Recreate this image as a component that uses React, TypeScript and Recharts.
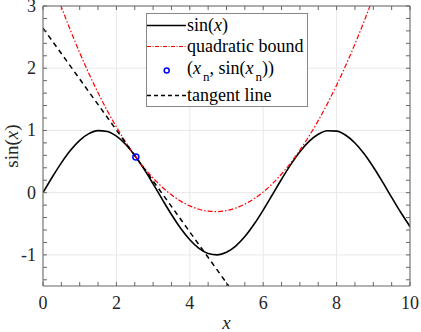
import React from 'react';
import { ComposedChart, Line, Scatter, XAxis, YAxis, CartesianGrid } from 'recharts';

// sample positions along x
const xs = [0, 0.25, 0.5, 0.75, 1, 1.25, 1.5, 1.75, 2, 2.25, 2.5, 2.75, 3, 3.25, 3.5, 3.75, 4, 4.25, 4.5, 4.75, 5,
  5.25, 5.5, 5.75, 6, 6.25, 6.5, 6.75, 7, 7.25, 7.5, 7.75, 8, 8.25, 8.5, 8.75, 9, 9.25, 9.5, 9.75, 10];
// sin(x) series
const sinValues = [0, 0.2474, 0.4794, 0.6816, 0.8415, 0.949, 0.9975, 0.984, 0.9093, 0.7781, 0.5985, 0.3817, 0.1411,
  -0.1082, -0.3508, -0.5716, -0.7568, -0.895, -0.9775, -0.9993, -0.9589, -0.8589, -0.7055, -0.5083, -0.2794, -0.0332,
  0.2151, 0.45, 0.657, 0.8231, 0.938, 0.9946, 0.9894, 0.9228, 0.7985, 0.6247, 0.4121, 0.1743, -0.0752, -0.3195, -0.544];
// quadratic bound series
const quadValues = [3.816, 3.389, 2.986, 2.606, 2.249, 1.916, 1.606, 1.319, 1.056, 0.815, 0.599, 0.405, 0.235, 0.088,
  -0.035, -0.136, -0.213, -0.266, -0.297, -0.304, -0.287, -0.248, -0.185, -0.098, 0.011, 0.144, 0.3, 0.48, 0.683,
  0.909, 1.158, 1.431, 1.727, 2.046, 2.389, 2.755, 3.144, 3.557, 3.993, 4.452, 4.935];
// tangent line end points
const tangentX = [0, 5.06];
const tangentY = [2.645, -1.5];
// the point (x_n, sin(x_n))
const pointX = [2.53];
const pointY = [0.574];

// ticks
const xTicks = [0, 0.5, 1, 1.5, 2, 2.5, 3, 3.5, 4, 4.5, 5, 5.5, 6, 6.5, 7, 7.5, 8, 8.5, 9, 9.5, 10];
const xMajor = [0, 2, 4, 6, 8, 10];
const yTicks = [-1.4, -1.2, -1, -0.8, -0.6, -0.4, -0.2, 0, 0.2, 0.4, 0.6, 0.8, 1, 1.2, 1.4, 1.6, 1.8, 2, 2.2, 2.4,
  2.6, 2.8, 3];
const yMajor = [-1, 0, 1, 2, 3];

const sinData = xs.map((x, i) => ({ x, y: sinValues[i] }));
const quadData = xs.map((x, i) => ({ x, y: quadValues[i] }));
const tangentData = tangentX.map((x, i) => ({ x, y: tangentY[i] }));
const pointData = pointX.map((x, i) => ({ x, y: pointY[i] }));

const FONT = 'Liberation Serif';
const AXIS = '#666';
const TXT = '#262626';
const TL = 4;

const isMajor = (v: number, list: number[]) => list.some((m) => Math.abs(m - v) < 1e-9);

const BottomTick = (props: any) => {
  const { x, y, payload } = props;
  const v = payload.value;
  return (
    <g>
      <line x1={x} x2={x} y1={y} y2={y - TL} stroke={AXIS} strokeWidth={1} />
      {isMajor(v, xMajor) && (
        <text x={x} y={y + 23} textAnchor="middle" fontSize={18} fill={TXT} fontFamily={FONT}>
          {v}
        </text>
      )}
    </g>
  );
};
const TopTick = (props: any) => {
  const { x, y } = props;
  return <line x1={x} x2={x} y1={y} y2={y + TL} stroke={AXIS} strokeWidth={1} />;
};
const LeftTick = (props: any) => {
  const { x, y, payload } = props;
  const v = payload.value;
  return (
    <g>
      <line x1={x} x2={x + TL} y1={y} y2={y} stroke={AXIS} strokeWidth={1} />
      {isMajor(v, yMajor) && (
        <text x={x - 7} y={y + 6} textAnchor="end" fontSize={18} fill={TXT} fontFamily={FONT}>
          {Math.round(v)}
        </text>
      )}
    </g>
  );
};
const RightTick = (props: any) => {
  const { x, y } = props;
  return <line x1={x} x2={x - TL} y1={y} y2={y} stroke={AXIS} strokeWidth={1} />;
};

const Dot = (props: any) => {
  const { cx, cy } = props;
  return <circle cx={cx} cy={cy} r={3} fill="none" stroke="#0000ff" strokeWidth={1.5} />;
};

const rowStyle: React.CSSProperties = { position: 'absolute', left: 0, height: 23, display: 'flex', alignItems: 'center', whiteSpace: 'nowrap' };
const subStyle: React.CSSProperties = { fontSize: 13, position: 'relative', top: 7, lineHeight: 0, marginLeft: 2 };

export default function App() {
  return (
    <div style={{ position: 'absolute', left: 0, top: 0, width: 421, height: 332, background: '#fff', overflow: 'hidden' }}>
      <ComposedChart width={421} height={332} margin={{ top: 5, right: 10, bottom: 16, left: 8 }}>
        <CartesianGrid stroke="#e8e8e8" strokeWidth={1} verticalValues={xMajor} horizontalValues={yMajor} />
        <XAxis
          xAxisId={0}
          type="number"
          dataKey="x"
          domain={[0, 10]}
          ticks={xTicks}
          interval={0}
          allowDataOverflow
          height={30}
          tickSize={0}
          tickMargin={0}
          tickLine={false}
          axisLine={{ stroke: AXIS }}
          tick={<BottomTick />}
        />
        <XAxis
          xAxisId="top"
          orientation="top"
          type="number"
          dataKey="x"
          domain={[0, 10]}
          ticks={xTicks}
          interval={0}
          allowDataOverflow
          height={1}
          tickSize={0}
          tickMargin={0}
          tickLine={false}
          axisLine={{ stroke: AXIS }}
          tick={<TopTick />}
        />
        <YAxis
          yAxisId={0}
          type="number"
          domain={[-1.5, 3]}
          ticks={yTicks}
          interval={0}
          allowDataOverflow
          width={35}
          tickSize={0}
          tickMargin={0}
          tickLine={false}
          axisLine={{ stroke: AXIS }}
          tick={<LeftTick />}
        />
        <YAxis
          yAxisId="right"
          orientation="right"
          type="number"
          domain={[-1.5, 3]}
          ticks={yTicks}
          interval={0}
          allowDataOverflow
          width={1}
          tickSize={0}
          tickMargin={0}
          tickLine={false}
          axisLine={{ stroke: AXIS }}
          tick={<RightTick />}
        />
        <Line data={sinData} dataKey="y" type="monotone" stroke="#000" strokeWidth={1.6} dot={false} isAnimationActive={false} />
        <Line data={quadData} dataKey="y" type="monotone" stroke="#ff0000" strokeWidth={1.2} strokeDasharray="5 2 1.5 2" dot={false} isAnimationActive={false} />
        <Line data={tangentData} dataKey="y" type="linear" stroke="#000" strokeWidth={1.5} strokeDasharray="5 4" dot={false} isAnimationActive={false} />
        <Scatter data={pointData} dataKey="y" shape={<Dot />} isAnimationActive={false} />
      </ComposedChart>

      <svg width={421} height={332} style={{ position: 'absolute', left: 0, top: 0, pointerEvents: 'none' }}>
        <text x={226.5} y={329} textAnchor="middle" fontSize={19} fill={TXT} fontFamily={FONT} fontStyle="italic">x</text>
        <text transform="translate(18,146) rotate(-90)" textAnchor="middle" fontSize={19} fill={TXT} fontFamily={FONT}>
          sin(<tspan fontStyle="italic">x</tspan>)
        </text>
      </svg>

      <div
        style={{
          position: 'absolute', left: 146, top: 13, width: 160, height: 92, border: '1px solid #888', background: '#fff',
          fontFamily: FONT, fontSize: 18, color: '#000',
        }}
      >
        <div style={{ ...rowStyle, top: -0.5 }}>
          <svg width={40} height={23}><line x1={0} x2={39} y1={11.5} y2={11.5} stroke="#000" strokeWidth={1.4} /></svg>
          <span>sin(<i>x</i>)</span>
        </div>
        <div style={{ ...rowStyle, top: 20.5 }}>
          <svg width={40} height={23}><line x1={0} x2={39} y1={11.5} y2={11.5} stroke="#ff0000" strokeWidth={1.2} strokeDasharray="4 1.5 1 1.5" /></svg>
          <span>quadratic bound</span>
        </div>
        <div style={{ ...rowStyle, top: 42.5 }}>
          <svg width={40} height={23}><circle cx={19.7} cy={13.5} r={2.5} fill="none" stroke="#0000ff" strokeWidth={1.5} /></svg>
          <span>(<i>x</i><span style={subStyle}>n</span>, sin(<i>x</i><span style={subStyle}>n</span>))</span>
        </div>
        <div style={{ ...rowStyle, top: 69.5 }}>
          <svg width={40} height={23}><line x1={0} x2={39} y1={11.5} y2={11.5} stroke="#000" strokeWidth={1.3} strokeDasharray="4 3" /></svg>
          <span>tangent line</span>
        </div>
      </div>
    </div>
  );
}
